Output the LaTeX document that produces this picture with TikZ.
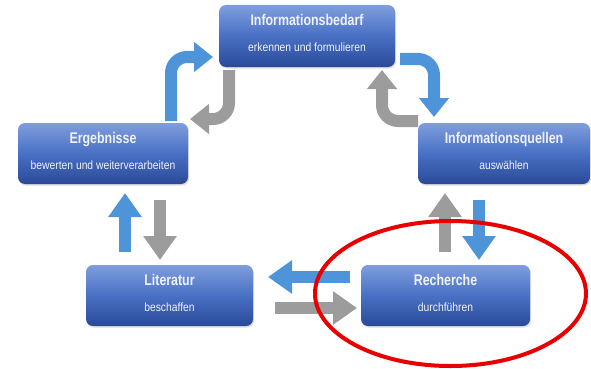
\documentclass[tikz,border=0pt]{standalone}
\usepackage{fontspec}
\setmainfont{Liberation Sans}
\newfontfamily\ttlfont[FakeStretch=0.8]{Liberation Sans}
\newfontfamily\subfont[FakeStretch=0.86]{Liberation Sans}
\usetikzlibrary{arrows.meta,shadows,shapes.geometric}
\definecolor{boxtop}{RGB}{128,158,222}
\definecolor{boxmid}{RGB}{72,112,196}
\definecolor{boxbot}{RGB}{42,74,152}
\definecolor{arrblue}{RGB}{78,148,216}
\definecolor{arrgray}{RGB}{156,156,156}
\definecolor{ringred}{RGB}{232,0,0}
\definecolor{txt}{RGB}{240,242,248}
\begin{document}
\begin{tikzpicture}[x=1pt,y=-1pt,
  box/.style={rounded corners=7pt, minimum width=#1, minimum height=61pt, inner sep=0pt,
    top color=boxtop, bottom color=boxbot, middle color=boxmid,
    drop shadow={shadow xshift=1pt, shadow yshift=-1.5pt, fill=black!22, opacity=0.6}},
  ttl/.style={font=\ttlfont\bfseries\fontsize{15.5}{18}\selectfont, text=txt, anchor=base, inner sep=0pt},
  sub/.style={font=\subfont\fontsize{12}{14}\selectfont, text=txt, anchor=base, inner sep=0pt},
  straightarr/.style={line width=12pt, -{Triangle[width=32pt,length=24pt]}},
  curvearr/.style={line width=12pt, rounded corners=16pt, -{Triangle[width=29pt,length=19pt]}},
  bluearr/.style={draw=arrblue},
  grayarr/.style={draw=arrgray}]
\useasboundingbox (0,0) rectangle (591,369);

% boxes
\node[box=176pt, minimum height=62pt] (A) at (307,36) {};
\node[box=172pt] (B) at (504,153.5) {};
\node[box=169pt] (C) at (445.5,295.5) {};
\node[box=167pt] (D) at (169.5,295.5) {};
\node[box=170pt] (E) at (103,153.5) {};

\node[ttl] (At) at ([yshift=-21pt]A.north) {Informationsbedarf};
\node[sub] (As) at ([yshift=-47pt]A.north) {erkennen und formulieren};
\node[ttl] (Bt) at ([yshift=-21pt]B.north) {Informationsquellen};
\node[sub] (Bs) at ([yshift=-47pt]B.north) {auswählen};
\node[ttl] (Ct) at ([yshift=-21pt]C.north) {Recherche};
\node[sub] (Cs) at ([yshift=-47pt]C.north) {durchführen};
\node[ttl] (Dt) at ([yshift=-21pt]D.north) {Literatur};
\node[sub] (Ds) at ([yshift=-47pt]D.north) {beschaffen};
\node[ttl] (Et) at ([yshift=-21pt]E.north) {Ergebnisse};
\node[sub] (Es) at ([yshift=-47pt]E.north) {bewerten und weiterverarbeiten};

% arrow end points
\coordinate (DEs) at (125,252); \coordinate (DEe) at (125,193);
\coordinate (EDs) at (160,200); \coordinate (EDe) at (160,260);
\coordinate (CBs) at (445,252); \coordinate (CBe) at (445,193);
\coordinate (BCs) at (479,200); \coordinate (BCe) at (479,260);
\coordinate (CDs) at (350,277); \coordinate (CDe) at (268,277);
\coordinate (DCs) at (275,308); \coordinate (DCe) at (357,308);
\coordinate (EAs) at (171,121); \coordinate (EAe) at (213,57);
\coordinate (AEs) at (229,70);  \coordinate (AEe) at (190,119);
\coordinate (ABs) at (400,59);  \coordinate (ABe) at (434,117);
\coordinate (BAs) at (418,121); \coordinate (BAe) at (382,70);

% straight arrows
\draw[straightarr,bluearr] (DEs) -- (DEe);
\draw[straightarr,grayarr] (EDs) -- (EDe);
\draw[straightarr,grayarr] (CBs) -- (CBe);
\draw[straightarr,bluearr] (BCs) -- (BCe);
\draw[straightarr,bluearr] (CDs) -- (CDe);
\draw[straightarr,grayarr] (DCs) -- (DCe);

% curved arrows
\draw[curvearr,bluearr] (EAs) |- (EAe);
\draw[curvearr,grayarr] (AEs) |- (AEe);
\draw[curvearr,bluearr] (ABs) -| (ABe);
\draw[curvearr,grayarr] (BAs) -| (BAe);

% red ring
\node[ellipse, draw=ringred, line width=4pt, minimum width=271pt, minimum height=145pt, inner sep=0pt] (ring) at (450.5,293.5) {};
\end{tikzpicture}
\end{document}
